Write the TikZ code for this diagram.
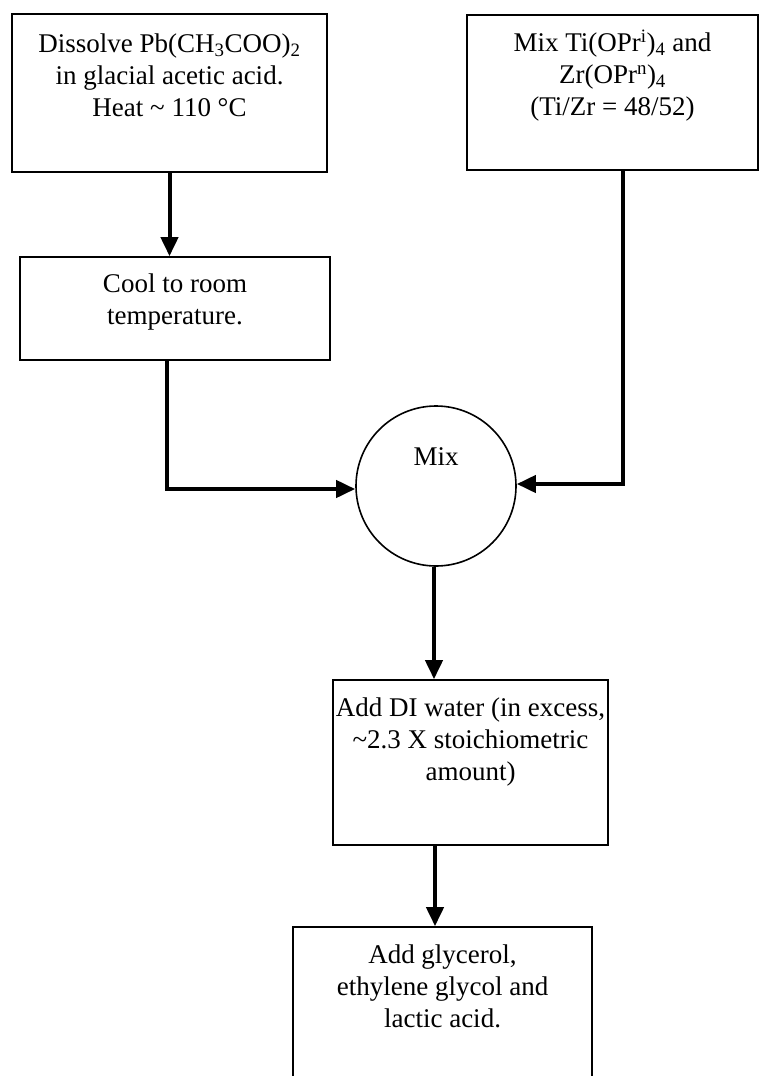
\documentclass[tikz,border=0pt]{standalone}
\usepackage{fontspec}
\setmainfont{Liberation Serif}
\usetikzlibrary{arrows.meta,calc}
\begin{document}
\begin{tikzpicture}[x=1pt,y=-1pt,
  box/.style={draw=black, line width=1.6pt, rectangle, inner sep=0pt},
  mixcircle/.style={draw=black, line width=1.6pt, circle, inner sep=0pt, minimum size=160pt},
  txt/.style={align=center, font=\fontsize{27}{32}\selectfont, inner sep=0pt},
  conn/.style={draw=black, line width=4pt, -{Triangle[length=19pt,width=17pt]}}]
\path[use as bounding box] (0,0) rectangle (760,1076);
\clip (0,0) rectangle (760,1076);
% boxes
\node[box, minimum width=315pt, minimum height=158pt] (b1) at (169.5,93) {};
\node[box, minimum width=291pt, minimum height=155pt] (bR) at (612.5,92.5) {};
\node[box, minimum width=310pt, minimum height=103pt] (b2) at (175,308.5) {};
\node[mixcircle] (mix) at (436,486) {};
\node[box, minimum width=275pt, minimum height=165pt] (b3) at (470.5,762.5) {};
\node[box, minimum width=299pt, minimum height=193pt] (b4) at (442.5,1023.5) {};
% texts
\node[txt] (t1) at (169.5,75) {Dissolve Pb(CH\textsubscript{3}COO)\textsubscript{2}\\in glacial acetic acid.\\Heat \textasciitilde{} 110 °C};
\node[txt] (tR) at (612.5,76) {Mix Ti(OPr\textsuperscript{i})\textsubscript{4} and\\Zr(OPr\textsuperscript{n})\textsubscript{4}\\(Ti/Zr = 48/52)};
\node[txt] (t2) at (175,302) {Cool to room\\temperature.};
\node[txt] (tmix) at (436,457) {Mix};
\node[txt] (t3) at (470.5,742) {Add DI water (in excess,\\\textasciitilde2.3 X stoichiometric\\amount)};
\node[txt] (t4) at (442.5,986) {Add glycerol,\\ethylene glycol and\\lactic acid.};
% connectors
\draw[conn] (b1.south) -- (b1.south |- b2.north);
\draw[conn] ([xshift=-8pt]b2.south) |- ([yshift=-3pt]mix.west);
\draw[conn] ([xshift=10pt]bR.south) |- ([yshift=2pt]mix.east);
\draw[conn] ([xshift=-2pt]mix.south) -- ([xshift=-2pt]mix.south |- b3.north);
\draw[conn] ([xshift=-1pt]mix.south |- b3.south) -- ([xshift=-1pt]mix.south |- b4.north);
\end{tikzpicture}
\end{document}
